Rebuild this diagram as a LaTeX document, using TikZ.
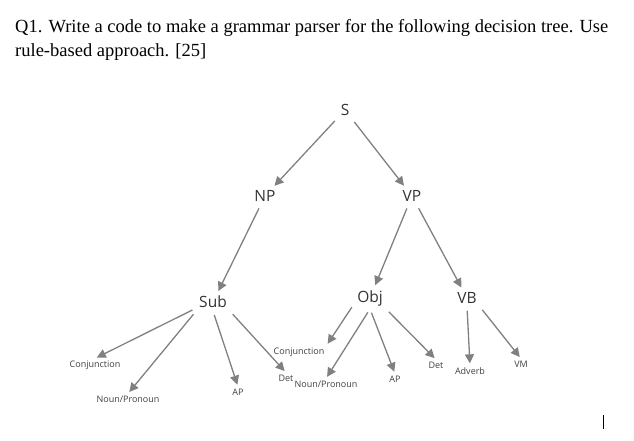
\documentclass[tikz,border=0pt]{standalone}
\usepackage{fontspec}
\setmainfont{Liberation Serif}
\newfontfamily\lblfont{Open Sans}
\usetikzlibrary{arrows.meta}
\begin{document}
\begin{tikzpicture}[x=1pt,y=-1pt,
  big/.style={font=\lblfont\fontsize{15.5}{17}\selectfont, text=black!80, inner sep=3pt},
  small/.style={font=\lblfont\fontsize{9}{10}\selectfont, text=black!75, inner sep=2pt},
  arr/.style={draw=black!50, line width=1.3pt, -{Triangle[length=9pt,width=9pt]}, shorten <=4pt, shorten >=2pt}]
\useasboundingbox (0,0) rectangle (634,440);
\node[anchor=west, font=\fontsize{18.5}{24}\selectfont, align=left, inner sep=0pt] (q) at (15,40)
 {Q1. Write a code to make a grammar parser for the following decision tree. Use\\rule-based approach. [25]};
\node[big] (S) at (345,110) {S};
\node[big] (NP) at (265,196) {NP};
\node[big] (VP) at (412,196) {VP};
\node[big] (Sub) at (213,302) {Sub};
\node[big] (Obj) at (370,298) {Obj};
\node[big] (VB) at (467,298) {VB};
\node[small] (c1) at (95,365) {Conjunction};
\node[small] (n1) at (128,399) {Noun/Pronoun};
\node[small] (a1) at (238,392) {AP};
\node[small] (d1) at (286,378) {Det};
\node[small] (c2) at (299,352) {Conjunction};
\node[small] (n2) at (326,384) {Noun/Pronoun};
\node[small] (a2) at (395,379) {AP};
\node[small] (d2) at (436,365) {Det};
\node[small] (adv) at (470,371) {Adverb};
\node[small] (vm) at (521,364) {VM};
\draw[arr] (S) -- (NP);
\draw[arr] (S) -- (VP);
\draw[arr] (NP) -- (Sub);
\draw[arr] (VP) -- (Obj);
\draw[arr] (VP) -- (VB);
\draw[arr] (Sub.200) -- (c1.north);
\draw[arr] (Sub.south west) -- (n1.north);
\draw[arr] (Sub.south) -- (a1.north);
\draw[arr] (Sub.south east) -- (d1.north);
\draw[arr] (Obj.200) -- (c2.north east);
\draw[arr] (Obj.south) -- (n2.north);
\draw[arr] (Obj.south) -- (a2.north);
\draw[arr] (Obj.south east) -- (d2.north);
\draw[arr] (VB.south) -- (adv.north);
\draw[arr] (VB.south east) -- (vm.north);
\coordinate (cb) at (603,415); \coordinate (ce) at (603,429);
\draw[line width=0.8pt] (cb) -- (ce);
\end{tikzpicture}
\end{document}
